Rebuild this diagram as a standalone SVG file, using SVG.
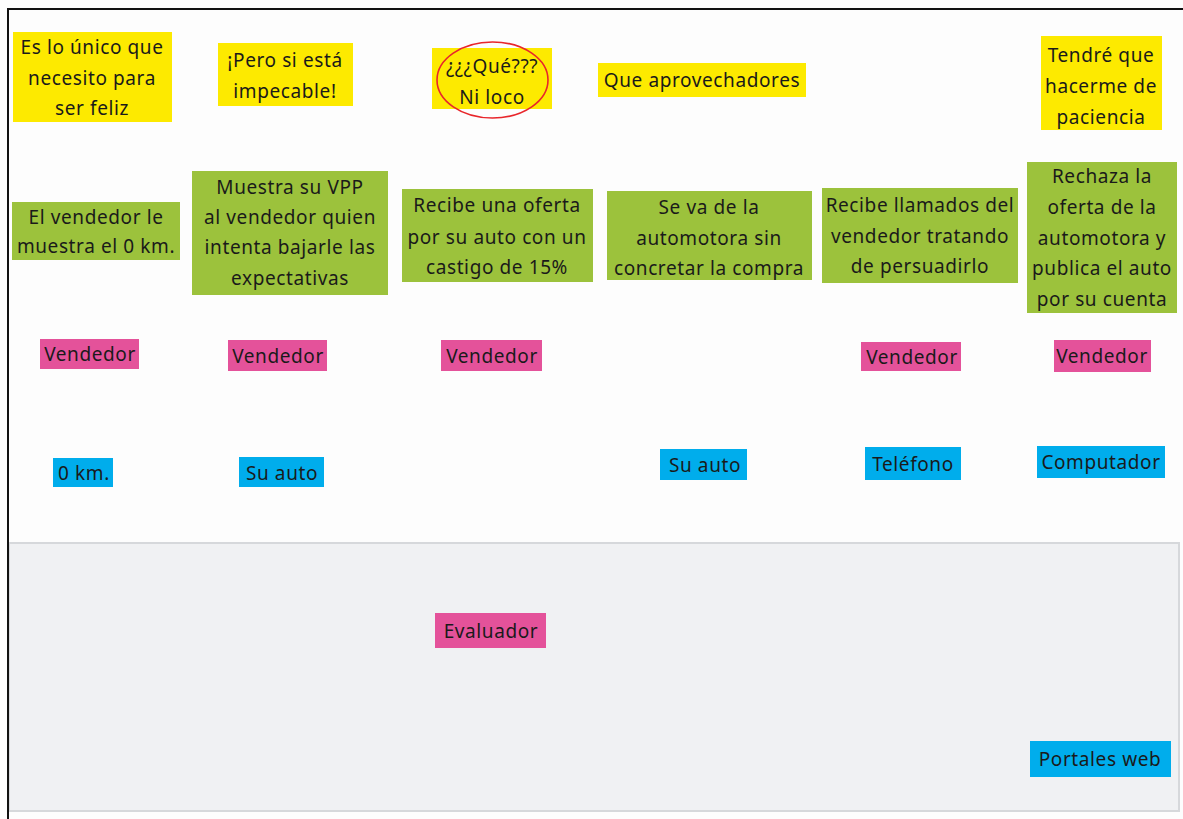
<svg xmlns="http://www.w3.org/2000/svg" width="1183" height="819" viewBox="0 0 1183 819">
  <style>
    text { font-family: "Comic Sans MS", "Noto Sans", "DejaVu Sans", sans-serif; font-size: 19px; letter-spacing: 0.6px; fill: #1a1a1a; text-anchor: middle; dominant-baseline: central; }
    .yel { fill: #fdea00; }
    .grn { fill: #9cc23c; }
    .pnk { fill: #e4529a; }
    .blu { fill: #00adec; }
  </style>

  <!-- page -->
  <rect x="0" y="0" width="1183" height="819" fill="#fdfdfd"/>
  <!-- lower lane -->
  <rect id="lane-bottom" x="9" y="543" width="1170" height="268" fill="#f0f1f3" stroke="#d6d8db" stroke-width="2"/>
  <!-- frame -->
  <path d="M8 819 V9 H1183" fill="none" stroke="#111" stroke-width="2"/>

  <!-- thoughts -->
  <g id="thought-1">
    <rect class="yel" x="13" y="32" width="159" height="90"/>
    <text x="92" y="47">Es lo único que</text>
    <text x="92" y="78">necesito para</text>
    <text x="92" y="108">ser feliz</text>
  </g>
  <g id="thought-2">
    <rect class="yel" x="218" y="43" width="135" height="63"/>
    <text x="285" y="60">¡Pero si está</text>
    <text x="285" y="91">impecable!</text>
  </g>
  <g id="thought-3">
    <rect class="yel" x="432" y="48" width="120" height="61"/>
    <text x="492" y="66">¿¿¿Qué???</text>
    <text x="492" y="97">Ni loco</text>
    <ellipse cx="492.5" cy="80" rx="55.5" ry="38" fill="none" stroke="#e8262b" stroke-width="1.6"/>
  </g>
  <g id="thought-4">
    <rect class="yel" x="598" y="63" width="208" height="34"/>
    <text x="702" y="80">Que aprovechadores</text>
  </g>
  <g id="thought-5">
    <rect class="yel" x="1041" y="36" width="121" height="94"/>
    <text x="1101" y="55">Tendré que</text>
    <text x="1101" y="86">hacerme de</text>
    <text x="1101" y="117">paciencia</text>
  </g>

  <!-- actions -->
  <g id="action-1">
    <rect class="grn" x="12" y="202" width="168" height="58"/>
    <text x="96" y="217">El vendedor le</text>
    <text x="96" y="246">muestra el 0 km.</text>
  </g>
  <g id="action-2">
    <rect class="grn" x="192" y="171" width="196" height="124"/>
    <text x="290" y="187">Muestra su VPP</text>
    <text x="290" y="217">al vendedor quien</text>
    <text x="290" y="247">intenta bajarle las</text>
    <text x="290" y="278">expectativas</text>
  </g>
  <g id="action-3">
    <rect class="grn" x="402" y="189" width="191" height="93"/>
    <text x="497" y="205">Recibe una oferta</text>
    <text x="497" y="237">por su auto con un</text>
    <text x="497" y="267">castigo de 15%</text>
  </g>
  <g id="action-4">
    <rect class="grn" x="607" y="191" width="205" height="89"/>
    <text x="709" y="207">Se va de la</text>
    <text x="709" y="238">automotora sin</text>
    <text x="709" y="268">concretar la compra</text>
  </g>
  <g id="action-5">
    <rect class="grn" x="822" y="188" width="196" height="95"/>
    <text x="920" y="205">Recibe llamados del</text>
    <text x="920" y="236">vendedor tratando</text>
    <text x="920" y="266">de persuadirlo</text>
  </g>
  <g id="action-6">
    <rect class="grn" x="1027" y="162" width="150" height="151"/>
    <text x="1102" y="176">Rechaza la</text>
    <text x="1102" y="207">oferta de la</text>
    <text x="1102" y="238">automotora y</text>
    <text x="1102" y="268">publica el auto</text>
    <text x="1102" y="299">por su cuenta</text>
  </g>

  <!-- people -->
  <g id="person-1"><rect class="pnk" x="40" y="339" width="99" height="30"/><text x="90" y="354">Vendedor</text></g>
  <g id="person-2"><rect class="pnk" x="228" y="340" width="99" height="31"/><text x="278" y="356">Vendedor</text></g>
  <g id="person-3"><rect class="pnk" x="441" y="340" width="101" height="31"/><text x="492" y="356">Vendedor</text></g>
  <g id="person-4"><rect class="pnk" x="861" y="342" width="100" height="29"/><text x="912" y="357">Vendedor</text></g>
  <g id="person-5"><rect class="pnk" x="1054" y="340" width="97" height="32"/><text x="1102" y="356">Vendedor</text></g>
  <g id="person-6"><rect class="pnk" x="435" y="613" width="111" height="35"/><text x="491" y="631">Evaluador</text></g>

  <!-- things -->
  <g id="thing-1"><rect class="blu" x="53" y="458" width="60" height="29"/><text x="84" y="473">0 km.</text></g>
  <g id="thing-2"><rect class="blu" x="239" y="457" width="85" height="30"/><text x="282" y="473">Su auto</text></g>
  <g id="thing-3"><rect class="blu" x="660" y="449" width="87" height="31"/><text x="705" y="465">Su auto</text></g>
  <g id="thing-4"><rect class="blu" x="865" y="447" width="96" height="33"/><text x="913" y="464">Teléfono</text></g>
  <g id="thing-5"><rect class="blu" x="1037" y="446" width="128" height="32"/><text x="1101" y="462">Computador</text></g>
  <g id="thing-6"><rect class="blu" x="1030" y="741" width="141" height="36"/><text x="1100" y="759">Portales web</text></g>

  <!-- no connectors in this board -->
  <g id="connectors"/>
</svg>
